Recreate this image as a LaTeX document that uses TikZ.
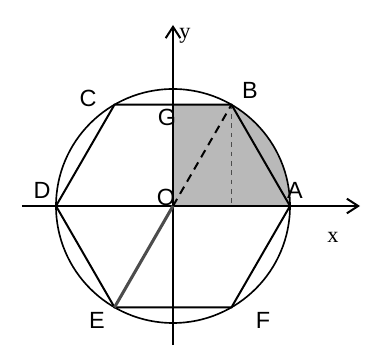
\documentclass[tikz,border=0pt]{standalone}
\usepackage{fontspec}
\setmainfont{Liberation Sans}
\newfontfamily\axfont{Liberation Serif}
\usetikzlibrary{arrows.meta}
\begin{document}
\begin{tikzpicture}[x=0.03cm, y=0.03cm, >={Straight Barb[length=3.4mm,width=4.4mm]}, line width=1.7pt,
  lbl/.style={font=\fontsize{20}{22}\selectfont},
  axlbl/.style={font=\axfont\fontsize{19}{21}\selectfont}]
\useasboundingbox (-173,206) rectangle (198,-141);
% vertices del hexagono
\coordinate (O) at (0,0);
\coordinate (A) at (0:117);
\coordinate (B) at (60:117);
\coordinate (C) at (120:117);
\coordinate (D) at (180:117);
\coordinate (E) at (240:117);
\coordinate (F) at (300:117);
\coordinate (G) at (O |- B);
% zona sombreada
\fill[gray!55] (O) -- (A) arc[start angle=0, end angle=60, radius=117] -- (G) -- cycle;
\draw[gray!60!black, line width=0.7pt, dash pattern=on 4pt off 4pt] (B) -- (B |- O);
% ejes
\draw[->] (-151,0) -- (187,0) coordinate (xend);
\draw[->] (0,-139) -- (0,181) coordinate (yend);
\node[axlbl] (xl) at (160,-31) {x};
\node[axlbl] (yl) at (12,170) {y};
% circulo y hexagono
\draw[line width=1.4pt] (O) circle[radius=117];
\draw (A) -- (B) -- (C) -- (D) -- (E) -- (F) -- cycle;
% diagonales
\draw[dash pattern=on 7pt off 5pt] (O) -- (B);
\draw[gray!60!black, line width=2.6pt] (E) -- (O);
% etiquetas
\node[lbl] (labA) at (122,16) {A};
\node[lbl] (labB) at (77,116) {B};
\node[lbl] (labC) at (-85,108) {C};
\node[lbl] (labD) at (-131,16) {D};
\node[lbl] (labG) at (-6,89) {G};
\node[lbl] (labO) at (-7,9) {O};
\node[lbl] (labE) at (-76,-114) {E};
\node[lbl] (labF) at (90,-114) {F};
\end{tikzpicture}
\end{document}
